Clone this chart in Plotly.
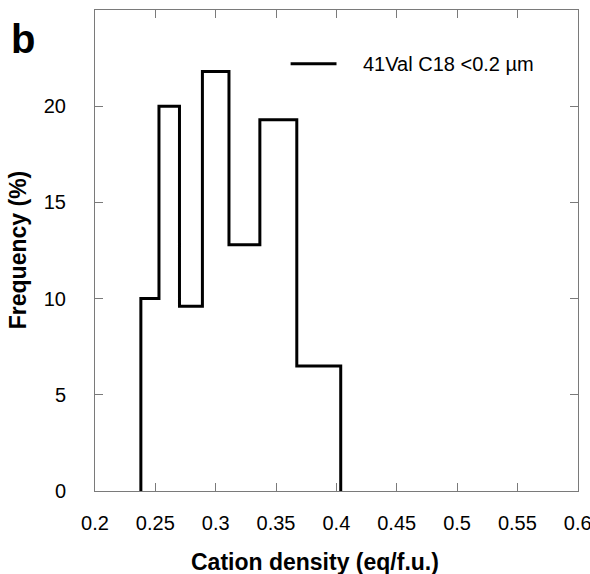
import plotly.graph_objects as go

# Histogram bin edges (cation density, eq/f.u.) and frequencies (%)
bin_edges = [0.238, 0.253, 0.270, 0.289, 0.311, 0.3366, 0.3672, 0.4036]
frequencies = [10.0, 20.0, 9.6, 21.8, 12.8, 19.3, 6.5]
series_name = "41Val C18 <0.2 µm"
x_ticks = [0.2, 0.25, 0.3, 0.35, 0.4, 0.45, 0.5, 0.55, 0.6]
y_ticks = [0, 5, 10, 15, 20]

# Step outline built from the histogram data
xs = [bin_edges[0]] + bin_edges[:-1] + [bin_edges[-1]]
ys = [0] + frequencies + [0]

FONT = "Liberation Sans, Arial, sans-serif"
fig = go.Figure()
fig.add_trace(go.Scatter(
    x=xs, y=ys, mode="lines", line=dict(color="black", width=3, shape="hv"),
    name=series_name, showlegend=False, cliponaxis=False,
))

axis_common = dict(
    showgrid=False, zeroline=False, showline=True, linecolor="#7a7a7a", linewidth=1,
    mirror="ticks", ticks="inside", ticklen=8, tickcolor="#7a7a7a", tickwidth=1,
    tickfont=dict(family=FONT, size=20, color="black"), automargin=False,
)
fig.update_xaxes(range=[0.2, 0.6002], tickvals=x_ticks,
                 ticktext=[f"{v:g}" for v in x_ticks], ticklabelstandoff=14,
                 ticklabeloverflow="allow", **axis_common)
fig.update_yaxes(range=[0, 25], tickvals=y_ticks,
                 ticktext=[str(v) for v in y_ticks], ticklabelstandoff=24, **axis_common)

# Legend drawn manually
fig.add_shape(type="line", xref="paper", yref="paper", x0=0.405, x1=0.5, y0=0.888, y1=0.888,
              line=dict(color="black", width=3))
fig.add_annotation(xref="paper", yref="paper", x=0.551, y=0.888, text=series_name,
                   showarrow=False, xanchor="left", yanchor="middle",
                   font=dict(family=FONT, size=20, color="black"))

# Axis titles
fig.add_annotation(xref="paper", yref="paper", x=0.455, y=-0.147, text="<b>Cation density (eq/f.u.)</b>",
                   showarrow=False, xanchor="center", yanchor="middle",
                   font=dict(family=FONT, size=23, color="black"))
fig.add_annotation(xref="paper", yref="paper", x=-0.16, y=0.5, text="<b>Frequency (%)</b>",
                   showarrow=False, textangle=-90, xanchor="center", yanchor="middle",
                   font=dict(family=FONT, size=23, color="black"))
fig.add_annotation(xref="paper", yref="paper", x=-0.15, y=0.94, text="<b>b</b>",
                   showarrow=False, xanchor="center", yanchor="middle",
                   font=dict(family=FONT, size=40, color="black"))

fig.update_layout(
    width=590, height=574, margin=dict(l=95, r=12, t=10, b=83),
    paper_bgcolor="white", plot_bgcolor="white", showlegend=False,
)
fig.write_html("out.html")
